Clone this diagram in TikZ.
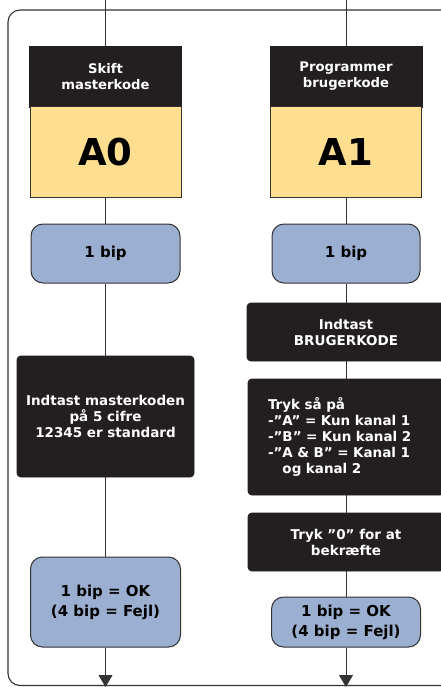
\documentclass[tikz,border=0pt]{standalone}
\usepackage{fontspec}
\setmainfont{DejaVu Sans}
\usetikzlibrary{arrows.meta}
\definecolor{boxblack}{HTML}{231F20}
\definecolor{codeyellow}{HTML}{FDDF8F}
\definecolor{bipblue}{HTML}{9BAFD0}
\definecolor{framegray}{HTML}{333333}

\begin{document}
\begin{tikzpicture}[x=1pt, y=-1pt, line width=0.9pt,
  header/.style={fill=boxblack, draw=boxblack, text=white, align=center, inner sep=0pt,
    minimum width=152, minimum height=61, font=\bfseries\fontsize{13.2}{16}\selectfont},
  codebox/.style={fill=codeyellow, draw=framegray, line width=1pt, inner sep=0pt,
    minimum width=151, minimum height=90, font=\bfseries\fontsize{37}{40}\selectfont},
  bipbox/.style={fill=bipblue, draw=framegray, line width=1pt, rounded corners=12pt, align=center,
    inner sep=0pt, font=\bfseries\fontsize{15}{20}\selectfont},
  stepbox/.style={fill=boxblack, draw=boxblack, text=white, rounded corners=4pt, inner sep=0pt,
    font=\bfseries\fontsize{13.5}{16}\selectfont},
  link/.style={draw=framegray, line width=0.9pt}]
  \useasboundingbox (0,0) rectangle (440,687);
  \draw[framegray, line width=1.1pt, rounded corners=12pt] (8,685.5) rectangle (470,10);
  % left column
  \coordinate (topA) at (105.5,0);
  \coordinate (endA) at (105.5,687);
  \node[header] (headA) at (105.5,76.5) {Skift\\masterkode};
  \node[codebox] (codeA) at (105.5,152) {A0};
  \node[bipbox, minimum width=149, minimum height=59] (bipA) at (105.5,253.5) {1 bip};
  \node[stepbox, align=center, minimum width=177, minimum height=121] (keyA) at (105.5,416.5)
    {Indtast masterkoden\\på 5 cifre\\12345 er standard};
  \node[bipbox, minimum width=150, minimum height=90] (okA) at (105.5,602) {1 bip = OK\\(4 bip = Fejl)};
  % right column
  \coordinate (topB) at (346,0);
  \coordinate (endB) at (346,687);
  \node[header] (headB) at (346,76.5) {Programmer\\brugerkode};
  \node[codebox] (codeB) at (346,152) {A1};
  \node[bipbox, minimum width=148, minimum height=59] (bipB) at (346,253.5) {1 bip};
  \node[stepbox, align=center, minimum width=198, minimum height=58] (userB) at (346,332)
    {Indtast\\BRUGERKODE};
  \node[stepbox, align=left, text width=156, minimum width=196, minimum height=116] (chanB) at (346,437)
    {Tryk så på\\-”A” = Kun kanal 1\\-”B” = Kun kanal 2\\-”A \& B” = Kanal 1\\\phantom{-”}og kanal 2};
  \node[stepbox, align=center, minimum width=196, minimum height=58] (okayB) at (346,542)
    {Tryk ”0” for at\\bekræfte};
  \node[bipbox, minimum width=149, minimum height=50] (okB) at (346,622)
    {1 bip = OK\\(4 bip = Fejl)};
  % connectors
  \draw[link] (topA) -- (headA) (codeA) -- (bipA) (bipA) -- (keyA) (keyA) -- (okA);
  \draw[link] (topB) -- (headB) (codeB) -- (bipB) (bipB) -- (userB) (userB) -- (chanB)
    (chanB) -- (okayB) (okayB) -- (okB);
  \draw[link, -{Triangle[width=14pt, length=12pt]}] (okA) -- (endA);
  \draw[link, -{Triangle[width=14pt, length=12pt]}] (okB) -- (endB);
\end{tikzpicture}
\end{document}
